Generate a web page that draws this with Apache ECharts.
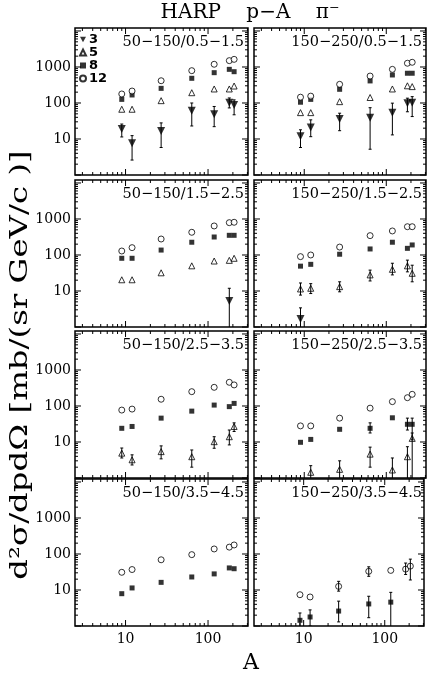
<!DOCTYPE html>
<html>
<head>
<meta charset="utf-8">
<script src="https://cdn.jsdelivr.net/npm/echarts@6/dist/echarts.min.js"></script>
<style>
html, body { margin: 0; padding: 0; background: #fff; }
#main { width: 427px; height: 673px; }
</style>
</head>
<body>
<div id="main"></div>
<script>
// target mass numbers (Be, C, Al, Cu, Sn, Ta, Pb)
var A = [9, 12, 27, 63.5, 118.7, 181, 207];
var momenta = ['3', '5', '8', '12'];
var panelLabels = [
  '50−150/0.5−1.5', '150−250/0.5−1.5',
  '50−150/1.5−2.5', '150−250/1.5−2.5',
  '50−150/2.5−3.5', '150−250/2.5−3.5',
  '50−150/3.5−4.5', '150−250/3.5−4.5'
];

// cross sections, one row per panel
var v3 = [
  [19, 7.6, 16.7, 61, 49, 102, 88],
  [12, 21, 36, 39, 54, 99, 102],
  [null, null, null, null, null, 5.3, null],
  [1.66, null, null, null, null, null, null],
  [], [], [], []
];
var v5 = [
  [67, 67, 116, 193, 245, 245, 296],
  [54, 54, 109, 142, 245, 300, 285],
  [20.5, 20.5, 32, 50, 68, 71, 81],
  [11.4, 11.9, 13.2, 28, 40, 50, 31],
  [4.9, 3.2, 5.4, 3.9, 10.2, 14, 27],
  [null, 1.44, 1.74, 4.6, 1.67, 3.9, 12.6],
  [], []
];
var v8 = [
  [126, 167, 255, 485, 695, 860, 740],
  [105, 126, 240, 410, 600, 670, 670],
  [81, 81, 137, 226, 316, 352, 352],
  [49, 55, 105, 147, 226, 153, 190],
  [24, 27, 46, 72, 106, 96, 118],
  [9.8, 11.8, 22.5, 24, 47, 31, 31],
  [7.9, 11.4, 16.3, 23, 28, 41, 39],
  [1.44, 1.78, 2.6, 4.1, 4.6, null, null]
];
var v12 = [
  [178, 215, 415, 790, 1190, 1500, 1630],
  [145, 155, 330, 560, 860, 1270, 1350],
  [129, 160, 278, 427, 640, 790, 810],
  [90, 100, 166, 345, 465, 610, 610],
  [77, 82, 154, 250, 330, 455, 385],
  [28, 28, 46, 87, 132, 170, 211],
  [31, 37, 69, 96, 138, 155, 178],
  [7.4, 6.4, 12.6, 33, 35, 38, 46]
];

// error bars [low, high] where they show
var e3 = [
  [[11.4, 26], [2.6, 12.4], [5.8, 28], [23, 100], [22, 80], [73, 138], [47, 122]],
  [[5.8, 18], [11.6, 34], [17, 52], [5.2, 74], [13, 99], [57, 136], [42, 150]],
  [null, null, null, null, null, [0.5, 11.9], null],
  [[0.5, 3.4]],
  [], [], [], []
];
var e5 = [
  [], [], [],
  [[7.7, 16.7], [8.5, 16], [9.5, 18], [19, 38], [28, 59], [34, 72], [18, 52]],
  [[3.6, 6.8], [2.3, 4.4], [3.4, 7.8], [2, 6], [6.7, 14], [8.3, 21.5], [19.6, 34]],
  [null, [0.5, 2.2], [0.5, 3.0], [2.0, 7.2], [0.5, 3.6], [0.5, 7.4], [0.5, 17.8]],
  [], []
];
var e8 = [
  [], [], [], [], [],
  [null, null, null, [17.8, 34], null, [21.5, 46], [11.5, 46]],
  [],
  [[0.5, 2.3], [1.0, 2.8], [1.3, 4.9], [1.7, 6.7], [0.5, 8.6], null, null]
];
var e12 = [
  [], [], [], [], [], [], [],
  [null, null, [9.3, 17.4], [24, 44], null, [27, 56], [19, 72]]
];

var xMajor = [10, 100];
var xMinor = [3, 4, 5, 6, 7, 8, 9, 20, 30, 40, 50, 60, 70, 80, 90, 200, 300];
var yMajor = [1, 10, 100, 1000, 10000];
var yMinor = [2, 3, 4, 5, 6, 7, 8, 9, 20, 30, 40, 50, 60, 70, 80, 90,
  200, 300, 400, 500, 600, 700, 800, 900, 2000, 3000, 4000, 5000, 6000, 7000, 8000, 9000];
var xLabels = [10, 100];
var yLabels = [10, 100, 1000];

var xMin = 2.44, xMax = 305, yMin = 1, yMax = 12100;
var colLeft = [75, 254], colWidth = [173, 172];
var rowTop = [28, 180, 331, 479], rowH = 147;
var serif = 'DejaVu Serif';

var vals = { '3': v3, '5': v5, '8': v8, '12': v12 };
var errs = { '3': e3, '5': e5, '8': e8, '12': e12 };
var marks = {
  '3': { symbol: 'triangle', symbolRotate: 180, symbolSize: 8, itemStyle: { color: '#000' } },
  '5': { symbol: 'triangle', symbolSize: 6, itemStyle: { color: '#fff', borderColor: '#000', borderWidth: 1 } },
  '8': { symbol: 'rect', symbolSize: 5, itemStyle: { color: '#000' } },
  '12': { symbol: 'circle', symbolSize: 6, itemStyle: { color: '#fff', borderColor: '#000', borderWidth: 1 } }
};

function seg(x1, y1, x2, y2) {
  return { type: 'line', shape: { x1: x1, y1: y1, x2: x2, y2: y2 }, style: { stroke: '#000', lineWidth: 1 } };
}

function renderXTick(params, api) {
  var v = api.value(0), len = api.value(2);
  var b = api.coord([v, yMin]), t = api.coord([v, yMax]);
  return { type: 'group', children: [seg(b[0], b[1], b[0], b[1] - len), seg(t[0], t[1], t[0], t[1] + len)] };
}
function renderYTick(params, api) {
  var v = api.value(1), len = api.value(2);
  var l = api.coord([xMin, v]), r = api.coord([xMax, v]);
  return { type: 'group', children: [seg(l[0], l[1], l[0] + len, l[1]), seg(r[0], r[1], r[0] - len, r[1])] };
}
function renderErr(params, api) {
  var x = api.value(0);
  var p1 = api.coord([x, api.value(1)]), p2 = api.coord([x, api.value(2)]);
  return {
    type: 'group',
    children: [
      seg(p1[0], p1[1], p2[0], p2[1]),
      seg(p2[0] - 1.5, p2[1], p2[0] + 1.5, p2[1]),
      seg(p1[0] - 1.5, p1[1], p1[0] + 1.5, p1[1])
    ]
  };
}

var xTickData = xMajor.map(function (v) { return [v, 1, 6]; })
  .concat(xMinor.map(function (v) { return [v, 1, 3]; }));
var yTickData = yMajor.map(function (v) { return [xMin, v, 6]; })
  .concat(yMinor.map(function (v) { return [xMin, v, 3]; }));

var grids = [], xAxes = [], yAxes = [], series = [];
var graphics = [
  {
    type: 'text', x: 250, y: 13,
    style: { text: 'HARP    p−A    π⁻', font: '20px DejaVu Serif', fill: '#000', textAlign: 'center', textVerticalAlign: 'middle' }
  },
  {
    type: 'text', x: 21, y: 365, rotation: Math.PI / 2, scaleX: 1.35,
    style: { text: 'd²σ/dpdΩ [mb/(sr GeV/c )]', font: '24px DejaVu Serif', fill: '#000', textAlign: 'center', textVerticalAlign: 'middle' }
  },
  {
    type: 'text', x: 251, y: 663,
    style: { text: 'A', font: '22px DejaVu Serif', fill: '#000', textAlign: 'center', textVerticalAlign: 'middle' }
  }
];

for (var p = 0; p < 8; p++) {
  var row = Math.floor(p / 2), col = p % 2;
  grids.push({
    left: colLeft[col], top: rowTop[row], width: colWidth[col], height: rowH,
    show: true, borderColor: '#000', borderWidth: 1.5
  });
  xAxes.push({
    type: 'log', gridIndex: p, min: xMin, max: xMax,
    axisLine: { show: false }, axisTick: { show: false }, splitLine: { show: false },
    axisLabel: {
      show: row === 3, margin: 6, color: '#000', fontFamily: serif, fontSize: 14,
      formatter: function (v) { return xLabels.indexOf(Math.round(v)) >= 0 ? String(Math.round(v)) : ''; }
    }
  });
  yAxes.push({
    type: 'log', gridIndex: p, min: yMin, max: yMax,
    axisLine: { show: false }, axisTick: { show: false }, splitLine: { show: false },
    axisLabel: {
      show: col === 0, margin: 4, color: '#000', fontFamily: serif, fontSize: 14,
      formatter: function (v) { return yLabels.indexOf(Math.round(v)) >= 0 ? String(Math.round(v)) : ''; }
    }
  });
  graphics.push({
    type: 'text', x: colLeft[col] + colWidth[col] - 4, y: rowTop[row] + 14,
    style: { text: panelLabels[p], font: '14.5px DejaVu Serif', fill: '#000', textAlign: 'right', textVerticalAlign: 'middle' }
  });

  series.push({ type: 'custom', xAxisIndex: p, yAxisIndex: p, renderItem: renderXTick, data: xTickData, silent: true, z: 1 });
  series.push({ type: 'custom', xAxisIndex: p, yAxisIndex: p, renderItem: renderYTick, data: yTickData, silent: true, z: 1 });

  var errData = [];
  momenta.forEach(function (m) {
    var e = errs[m][p];
    for (var i = 0; i < e.length; i++) {
      if (e[i]) errData.push([A[i], e[i][0], e[i][1]]);
    }
  });

  momenta.forEach(function (m) {
    var v = vals[m][p], pts = [];
    for (var i = 0; i < v.length; i++) {
      if (v[i] != null) pts.push([A[i], v[i]]);
    }
    var s = {
      name: m, type: 'scatter', xAxisIndex: p, yAxisIndex: p, data: pts,
      symbol: marks[m].symbol, symbolSize: marks[m].symbolSize, itemStyle: marks[m].itemStyle, z: 3
    };
    if (marks[m].symbolRotate) s.symbolRotate = marks[m].symbolRotate;
    series.push(s);
  });

  series.push({ type: 'custom', xAxisIndex: p, yAxisIndex: p, renderItem: renderErr, data: errData, clip: true, silent: true, z: 4 });
}

var chart = echarts.init(document.getElementById('main'));
chart.setOption({
  animation: false,
  backgroundColor: '#fff',
  legend: {
    data: [
      { name: '3', icon: 'path://M0,0L10,0L5,9Z' },
      { name: '5' },
      { name: '8' },
      { name: '12' }
    ],
    orient: 'vertical', left: 79, top: 33, padding: 0,
    itemWidth: 6, itemHeight: 6, itemGap: 0, selectedMode: false,
    textStyle: { fontFamily: 'DejaVu Sans', fontWeight: 'bold', fontSize: 13, lineHeight: 11, color: '#000', padding: [0, 0, 0, -2] }
  },
  grid: grids,
  xAxis: xAxes,
  yAxis: yAxes,
  series: series,
  graphic: graphics
});
</script>
</body>
</html>
